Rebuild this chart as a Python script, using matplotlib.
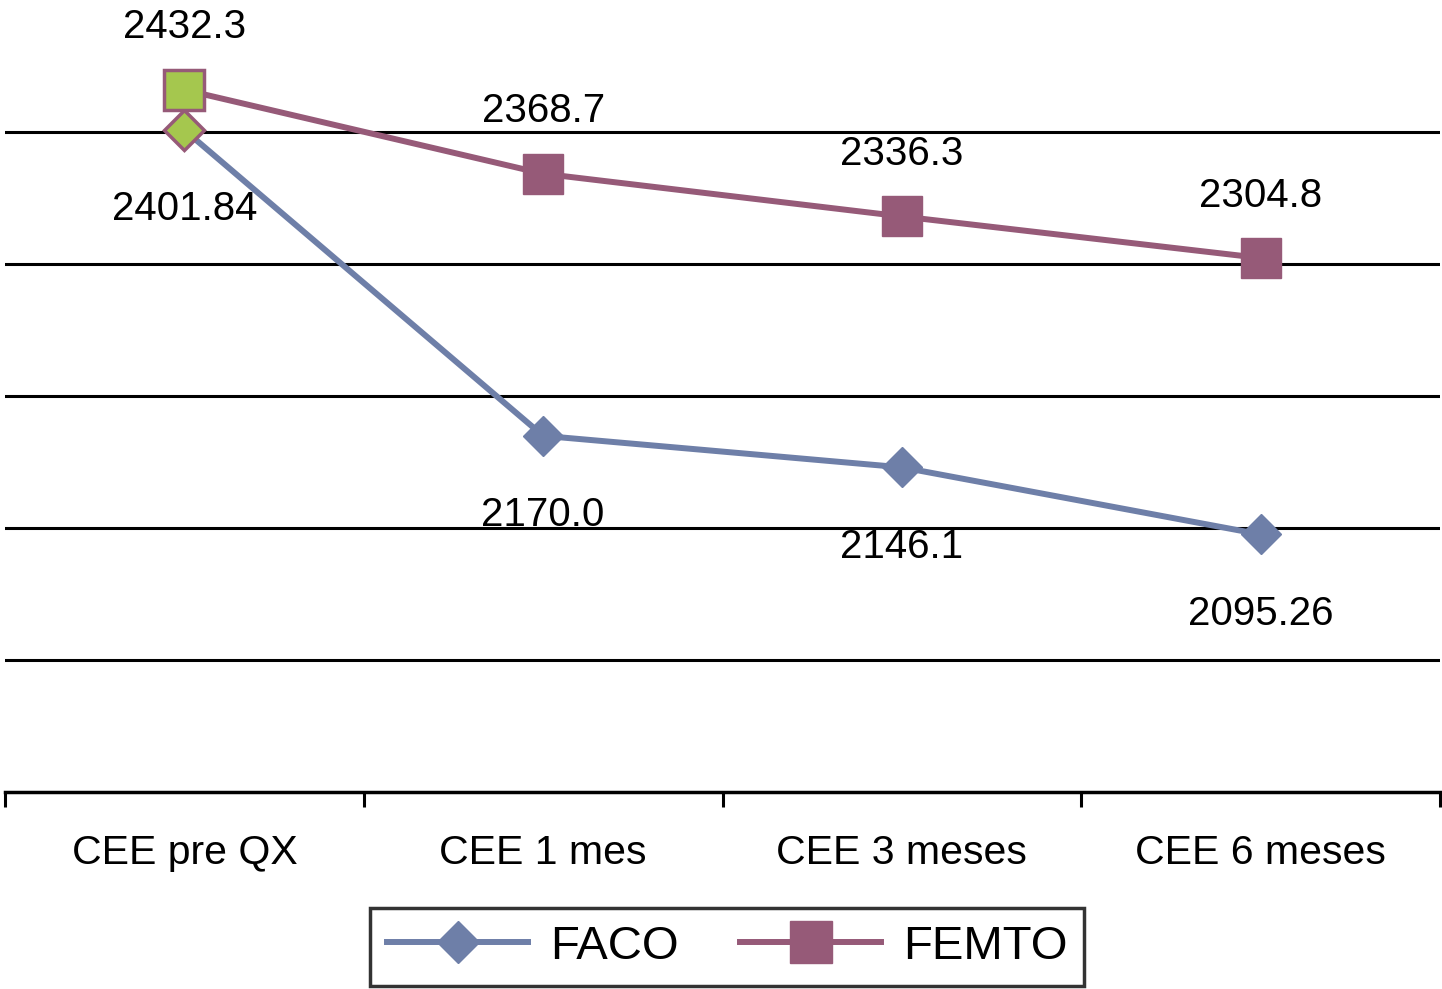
import matplotlib.pyplot as plt

plt.rcParams['font.family'] = ['Liberation Sans', 'DejaVu Sans']

categories = ["CEE pre QX", "CEE 1 mes", "CEE 3 meses", "CEE 6 meses"]
faco = [2401.84, 2170.0, 2146.1, 2095.26]
femto = [2432.3, 2368.7, 2336.3, 2304.8]
faco_labels = ["2401.84", "2170.0", "2146.1", "2095.26"]
femto_labels = ["2432.3", "2368.7", "2336.3", "2304.8"]
grid_values = [2000, 2100, 2200, 2300, 2400]

faco_color = "#6E7FA8"
femto_color = "#965A78"
green = "#A5C74E"

fig = plt.figure(figsize=(14.42, 9.89), dpi=100)
ax = fig.add_axes([5 / 1442, 1 - 792 / 989, 1435 / 1442, 791.5 / 989])

x = list(range(len(categories)))

for g in grid_values:
     ax.axhline(g, color="black", lw=2.2, zorder=1)

ax.plot(x, faco, color=faco_color, lw=4.3, marker="D", ms=20,
        mec=faco_color, label="FACO", zorder=3)
ax.plot(x, femto, color=femto_color, lw=4.3, marker="s", ms=29,
        mec=femto_color, label="FEMTO", zorder=3)

# first points are highlighted in green
ax.plot(x[0], faco[0], marker="D", ms=20, mfc=green, mec=femto_color,
        mew=2.5, ls="none", zorder=4)
ax.plot(x[0], femto[0], marker="s", ms=29, mfc=green, mec=femto_color,
        mew=2.5, ls="none", zorder=4)

for i in x:
     ax.annotate(femto_labels[i], (x[i], femto[i]), xytext=(0, 45),
                 textcoords="offset points", ha="center", va="center",
                 fontsize=29)
     ax.annotate(faco_labels[i], (x[i], faco[i]), xytext=(0, -57),
                 textcoords="offset points", ha="center", va="center",
                 fontsize=29)

ax.set_xlim(-0.5, len(categories) - 0.5)
ax.set_ylim(1900, 2500)
ax.set_yticks([])
ax.set_xticks(x)
ax.set_xticklabels(categories, fontsize=29.5)
ax.tick_params(axis="x", which="major", length=0, pad=30)
ax.set_xticks([i - 0.5 for i in range(len(categories) + 1)], minor=True)
ax.tick_params(axis="x", which="minor", length=11, width=2.2, direction="out")

for side in ["left", "right", "top"]:
     ax.spines[side].set_visible(False)
ax.spines["bottom"].set_linewidth(2.5)

leg = fig.legend(loc="center", bbox_to_anchor=(727 / 1442, 1 - 947 / 989),
                 ncol=2, fontsize=34, frameon=True, fancybox=False,
                 handlelength=3.0, columnspacing=1.3, borderpad=0.35,
                 handletextpad=0.45, borderaxespad=0, markerscale=1.05)
leg.get_frame().set_edgecolor("black")
leg.get_frame().set_linewidth(2.5)

fig.savefig("out.png", dpi=100)
